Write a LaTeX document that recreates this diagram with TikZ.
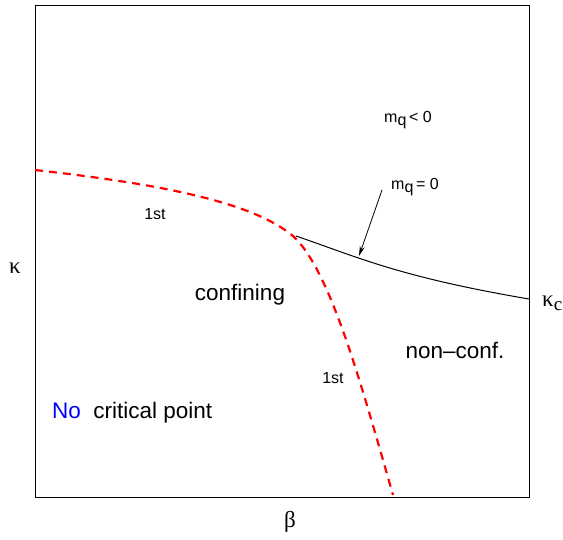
\documentclass[tikz,border=0pt]{standalone}
\usepackage{fontspec}
\setmainfont{Liberation Sans}
\newfontfamily\greekfont{Liberation Serif}
\usetikzlibrary{arrows.meta}
\begin{document}
\begin{tikzpicture}[x=1pt,y=-1pt,
  lbl/.style={inner sep=0pt,font=\fontsize{22.5}{26}\selectfont},
  small/.style={inner sep=0pt,font=\fontsize{16}{18}\selectfont},
  mq/.style={inner sep=0pt,font=\fontsize{16}{18}\selectfont},
  grk/.style={inner sep=0pt,font=\greekfont\fontsize{23}{26}\selectfont},
  firstorder/.style={red,line width=2.2pt,dash pattern=on 8pt off 6pt},
  crit/.style={black,line width=1pt}]
\useasboundingbox (0,0) rectangle (563,539);
\draw[line width=1pt] (35,5) rectangle (529,497);
% first-order line
\coordinate (a) at (35,170);
\coordinate (b) at (293,236);
\coordinate (c) at (393,495);
\draw[firstorder] (a) .. controls (150,183) and (250,200) .. (b)
  .. controls (330,270) and (360,380) .. (c);
% critical line
\coordinate (d) at (296,236);
\coordinate (e) at (529,299);
\draw[crit] (d) .. controls (360,258) and (400,277) .. (e);
% arrow
\coordinate (t) at (382,190);
\coordinate (h) at (359,256);
\draw[line width=0.8pt,-{Stealth[length=10pt,width=5pt]}] (t) -- (h);
% labels
\node[mq] (mneg) at (408,120) {m\raisebox{-0.45ex}{q}\,< 0};
\node[mq] (mzero) at (415,187) {m\raisebox{-0.45ex}{q}\,= 0};
\node[grk,anchor=west] (kc) at (542,303) {κ\raisebox{-0.35ex}{\fontsize{19}{19}\selectfont c}};
\node[grk] (k) at (15,268) {κ};
\node[grk] (beta) at (290,522) {β};
\node[lbl] (conf) at (240,295) {confining};
\node[lbl] (nonconf) at (455,350) {non\textendash conf.};
\node[small] (f1) at (155,214) {1st};
\node[small] (f2) at (333,378) {1st};
\node[lbl,anchor=west] (nocp) at (52,413) {\textcolor{blue}{No}\ \ critical point};
\end{tikzpicture}
\end{document}
